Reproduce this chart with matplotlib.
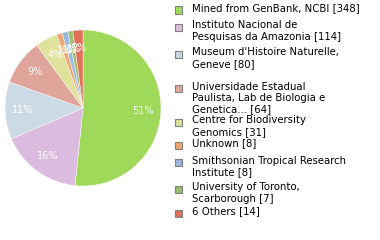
import matplotlib
matplotlib.use('Agg')
import matplotlib.pyplot as plt
from matplotlib.patches import Rectangle

labels = ['Mined from GenBank, NCBI', 'Instituto Nacional de\nPesquisas da Amazonia',
          "Museum d'Histoire Naturelle,\nGeneve", 'Universidade Estadual\nPaulista, Lab de Biologia e\nGenetica...',
          'Centre for Biodiversity\nGenomics', 'Unknown', 'Smithsonian Tropical Research\nInstitute',
          'University of Toronto,\nScarborough', '6 Others']
counts = [348, 114, 80, 64, 31, 8, 8, 7, 14]
colors = ['#9ed95a', '#dcbcde', '#ccdae6', '#e0a59a', '#dee29a', '#f0a870', '#9bb8e0', '#9cc070', '#e07058']

W, H = 380, 240
fig = plt.figure(figsize=(W / 100, H / 100), dpi=100)
plt.rcParams['font.family'] = 'DejaVu Sans'

# pie: center (83,108), radius 78 px
cx, cy, r = 83, 108, 78
ax = fig.add_axes([(cx - r) / W, (H - cy - r) / H, 2 * r / W, 2 * r / H])

def pct(p):
    return '%d%%' % int(p)

wedges, texts, autotexts = ax.pie(counts, colors=colors, startangle=90, counterclock=False,
                                  autopct=pct, pctdistance=0.77,
                                  wedgeprops=dict(edgecolor='white', linewidth=0.3),
                                  textprops=dict(color='white', fontsize=7))
ax.set_xlim(-1, 1)
ax.set_ylim(-1, 1)
ax.set_aspect('equal')

# legend
ys = [10, 27, 54, 88, 122, 145, 162, 189, 213]
for lab, n, c, y in zip(labels, counts, colors, ys):
    fig.add_artist(Rectangle(((175) / W, (H - y - 3.5) / H), 7 / W, 7 / H,
                             transform=fig.transFigure, facecolor=c, edgecolor='#808080', linewidth=0.8))
    fig.text(192 / W, (H - y + 6.5) / H, '%s [%d]' % (lab, n), fontsize=7.3, va='top', ha='left',
             linespacing=1.15, color='black')

fig.savefig('out.png', dpi=100)
